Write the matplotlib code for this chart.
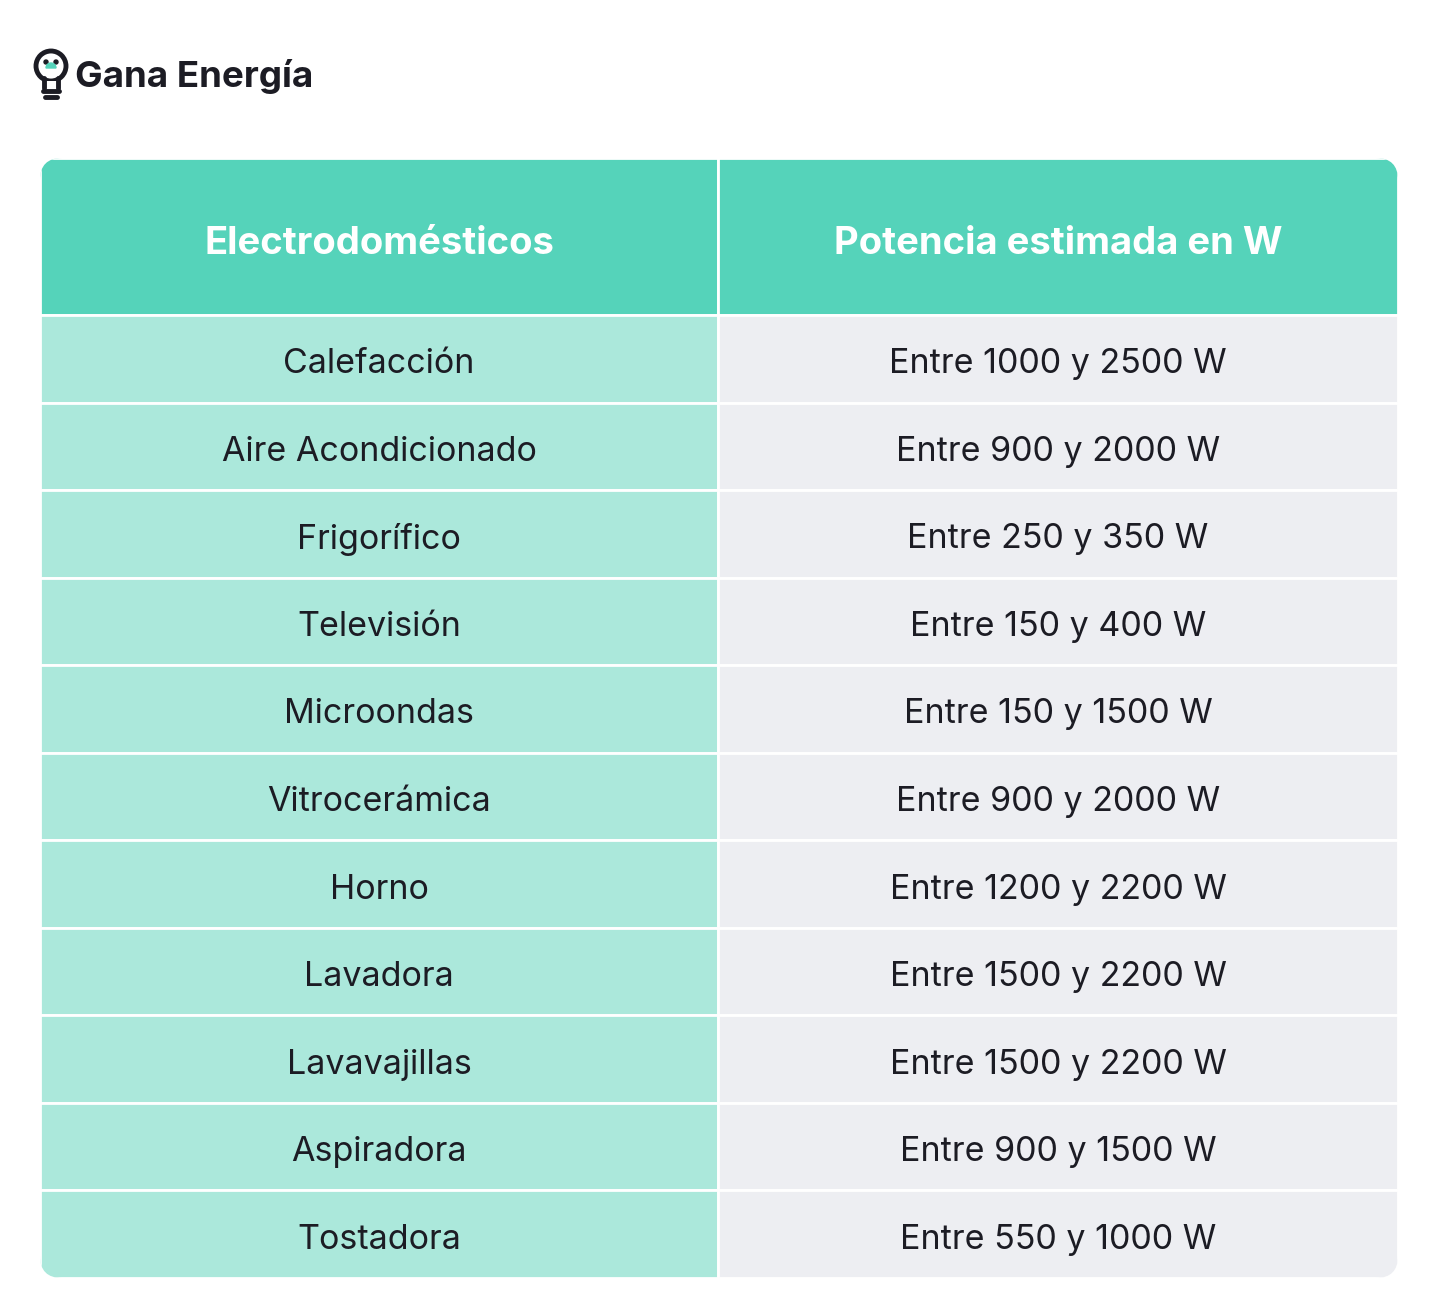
import matplotlib
matplotlib.use("Agg")
import matplotlib.pyplot as plt
from matplotlib.patches import Rectangle, FancyBboxPatch, Circle, Wedge

headers = ["Electrodomésticos", "Potencia estimada en W"]
appliances = ["Calefacción", "Aire Acondicionado", "Frigorífico", "Televisión",
              "Microondas", "Vitrocerámica", "Horno", "Lavadora", "Lavavajillas",
              "Aspiradora", "Tostadora"]
power = ["Entre 1000 y 2500 W", "Entre 900 y 2000 W", "Entre 250 y 350 W",
         "Entre 150 y 400 W", "Entre 150 y 1500 W", "Entre 900 y 2000 W",
         "Entre 1200 y 2200 W", "Entre 1500 y 2200 W", "Entre 1500 y 2200 W",
         "Entre 900 y 1500 W", "Entre 550 y 1000 W"]

W, H = 1440, 1316
fig = plt.figure(figsize=(W / 100, H / 100), dpi=100)
ax = fig.add_axes([0, 0, 1, 1])
ax.set_xlim(0, W)
ax.set_ylim(H, 0)
ax.axis("off")

font = "Inter"
dark = "#1c1c24"
x0, xm, x1 = 40, 718, 1398
top, head_bot, bot = 158, 315, 1278
row_h = (bot - head_bot) / len(appliances)

clip = FancyBboxPatch((x0, top), x1 - x0, bot - top,
                      boxstyle="round,pad=0,rounding_size=22",
                      facecolor="none", edgecolor="none")
ax.add_patch(clip)

def cell(x, y, w, h, color):
    r = Rectangle((x, y), w, h, facecolor=color, edgecolor="white", linewidth=2)
    ax.add_patch(r)
    r.set_clip_path(clip)

cell(x0, top, xm - x0, head_bot - top, "#55d3ba")
cell(xm, top, x1 - xm, head_bot - top, "#55d3ba")
hy = (top + head_bot) / 2 + 3
ax.text((x0 + xm) / 2, hy, headers[0], ha="center", va="center_baseline",
        fontsize=27.5, fontweight="bold", color="white", family=font)
ax.text((xm + x1) / 2, hy, headers[1], ha="center", va="center_baseline",
        fontsize=27.5, fontweight="bold", color="white", family=font)

for i, (a, p) in enumerate(zip(appliances, power)):
    y = head_bot + i * row_h
    cell(x0, y, xm - x0, row_h, "#abe8db")
    cell(xm, y, x1 - xm, row_h, "#edeef2")
    ty = y + row_h / 2 + 2
    ax.text((x0 + xm) / 2, ty, a, ha="center", va="center_baseline",
            fontsize=24.5, color=dark, family=font)
    ax.text((xm + x1) / 2, ty, p, ha="center", va="center_baseline",
            fontsize=24.5, color=dark, family=font)

# logo: little bulb
ax.add_patch(Circle((51, 66), 15, facecolor="none", edgecolor=dark, linewidth=3.5))
ax.add_patch(Rectangle((44, 81), 14, 4, facecolor="white", edgecolor="none"))
ax.plot([44, 44], [78, 88], color=dark, lw=3.5, solid_capstyle="round")
ax.plot([58, 58], [78, 88], color=dark, lw=3.5, solid_capstyle="round")
ax.plot([43, 59], [91, 91], color=dark, lw=3.5, solid_capstyle="round")
ax.plot([45, 57], [97, 97], color=dark, lw=3.5, solid_capstyle="round")
ax.add_patch(Circle((46, 62), 2, color=dark))
ax.add_patch(Circle((56, 62), 2, color=dark))
ax.add_patch(Wedge((51, 68), 5, 180, 360, color="#55d3ba"))
ax.text(75, 76, "Gana Energía", ha="left", va="center", fontsize=26.5,
        fontweight="bold", color=dark, family=font)

fig.savefig("out.png", dpi=100, facecolor="white")
